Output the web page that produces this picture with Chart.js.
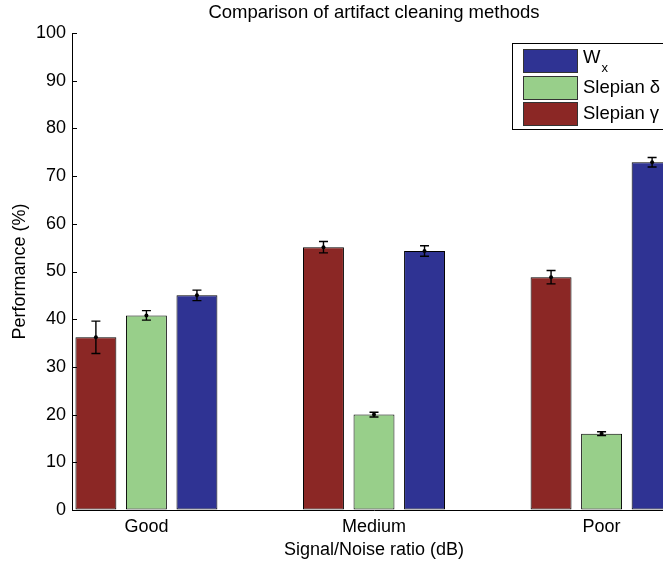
<!DOCTYPE html>
<html>
<head>
<meta charset="utf-8">
<script src="https://cdn.jsdelivr.net/npm/chart.js@4/dist/chart.umd.min.js"></script>
<style>
  html, body { margin: 0; padding: 0; background: #fff; overflow: hidden; }
  #wrap { width: 720px; height: 568px; }
</style>
</head>
<body>
<div id="wrap"><canvas id="c" width="720" height="568"></canvas></div>
<script>
const chartTitle = 'Comparison of artifact cleaning methods';
const xAxisTitle = 'Signal/Noise ratio (dB)';
const yAxisTitle = 'Performance (%)';
const categories = ['Good', 'Medium', 'Poor'];
const categoryPositions = [1, 2, 3];
const seriesNames = ['Slepian γ', 'Slepian δ', 'W'];
const gammaValues = [36.2, 55.1, 48.8];
const gammaErrors = [3.4, 1.2, 1.4];
const deltaValues = [40.8, 20.0, 16.0];
const deltaErrors = [1.0, 0.5, 0.4];
const wxValues = [45.0, 54.3, 72.9];
const wxErrors = [1.1, 1.1, 1.0];
const yTicks = [0, 10, 20, 30, 40, 50, 60, 70, 80, 90, 100];

const FONT = "'Liberation Sans', Arial, Helvetica, sans-serif";
const colors = ['#8B2725', '#98CF8A', '#2F3393'];
const errors = [gammaErrors, deltaErrors, wxErrors];
const valueSets = [gammaValues, deltaValues, wxValues];

const datasets = valueSets.map((vals, i) => ({
  label: seriesNames[i],
  data: vals.map((v, j) => ({ x: categoryPositions[j], y: v })),
  backgroundColor: colors[i],
  borderColor: '#000',
  borderWidth: 1,
  borderSkipped: false,
  categoryPercentage: 0.666,
  barPercentage: 0.81
}));

const decorPlugin = {
  id: 'decor',
  afterDatasetsDraw(chart) {
    const ctx = chart.ctx;
    const yS = chart.scales.y;
    const area = chart.chartArea;
    ctx.save();
    // inward y ticks
    ctx.strokeStyle = '#000';
    ctx.lineWidth = 1;
    yTicks.forEach(t => {
      const py = Math.round(yS.getPixelForValue(t)) + 0.5;
      ctx.beginPath();
      ctx.moveTo(area.left, py);
      ctx.lineTo(area.left + 5, py);
      ctx.stroke();
    });
    // error bars
    ctx.lineWidth = 1.4;
    datasets.forEach((ds, i) => {
      const meta = chart.getDatasetMeta(i);
      meta.data.forEach((el, j) => {
        const v = valueSets[i][j], e = errors[i][j];
        const x = el.x;
        const yt = yS.getPixelForValue(v + e);
        const yb = yS.getPixelForValue(v - e);
        const ym = yS.getPixelForValue(v);
        ctx.beginPath();
        ctx.moveTo(x, yt); ctx.lineTo(x, yb);
        ctx.moveTo(x - 4.5, yt); ctx.lineTo(x + 4.5, yt);
        ctx.moveTo(x - 4.5, yb); ctx.lineTo(x + 4.5, yb);
        ctx.stroke();
        ctx.beginPath();
        ctx.arc(x, ym, 2, 0, Math.PI * 2);
        ctx.fillStyle = '#000';
        ctx.fill();
      });
    });
    // title
    ctx.fillStyle = '#000';
    ctx.font = '18.5px ' + FONT;
    ctx.textAlign = 'center';
    ctx.textBaseline = 'middle';
    ctx.fillText(chartTitle, (area.left + area.right) / 2, 13);
    // legend
    const bx = 512.5, by = 43.5, bw = 200, bh = 86;
    ctx.fillStyle = '#fff';
    ctx.fillRect(bx, by, bw, bh);
    ctx.strokeStyle = '#000';
    ctx.lineWidth = 1;
    ctx.strokeRect(bx, by, bw, bh);
    const order = [2, 1, 0];
    const rowCenters = [61, 88, 114];
    order.forEach((si, r) => {
      const cy = rowCenters[r];
      ctx.fillStyle = colors[si];
      ctx.fillRect(523, cy - 12, 55, 24);
      ctx.strokeStyle = '#333';
      ctx.strokeRect(523.5, cy - 11.5, 54, 23);
      ctx.fillStyle = '#000';
      ctx.textAlign = 'left';
      ctx.textBaseline = 'middle';
      ctx.font = '18.5px ' + FONT;
      ctx.fillText(seriesNames[si], 583, cy - (si === 2 ? 3 : 0));
      if (si === 2) {
        const w = ctx.measureText(seriesNames[si]).width;
        ctx.font = '13px ' + FONT;
        ctx.fillText('x', 583 + w + 1, cy + 7);
      }
    });
    ctx.restore();
  }
};

new Chart(document.getElementById('c'), {
  type: 'bar',
  data: { datasets },
  options: {
    responsive: false,
    animation: false,
    devicePixelRatio: 1,
    layout: { padding: { top: 33, right: 44, bottom: 0, left: 0 } },
    plugins: { legend: { display: false }, title: { display: false }, tooltip: { enabled: false } },
    scales: {
      x: {
        type: 'linear',
        min: 0.673,
        max: 3.327,
        offset: false,
        bounds: 'data',
        afterBuildTicks(scale) { scale.ticks = categoryPositions.map(v => ({ value: v })); },
        afterFit(scale) { scale.height = 58; },
        grid: { display: true, drawOnChartArea: false, drawTicks: false, offset: false },
        border: { display: true, color: '#000', width: 1 },
        ticks: {
          padding: 6,
          color: '#000',
          font: { family: FONT, size: 18 },
          maxRotation: 0,
          autoSkip: false,
          callback: (v) => { const k = categoryPositions.indexOf(v); return k >= 0 ? categories[k] : ''; }
        },
        title: { display: true, text: xAxisTitle, color: '#000', font: { family: FONT, size: 18 }, padding: { top: 0, bottom: 7 } }
      },
      y: {
        min: 0,
        max: 100,
        afterBuildTicks(scale) { scale.ticks = yTicks.map(v => ({ value: v })); },
        afterFit(scale) { scale.width = 72; },
        grid: { display: true, drawOnChartArea: false, drawTicks: false },
        border: { display: true, color: '#000', width: 1 },
        ticks: { padding: 6, color: '#000', font: { family: FONT, size: 18 } },
        title: { display: true, text: yAxisTitle, color: '#000', font: { family: FONT, size: 18 }, padding: { top: 9, bottom: 0 } }
      }
    }
  },
  plugins: [decorPlugin]
});
</script>
</body>
</html>
